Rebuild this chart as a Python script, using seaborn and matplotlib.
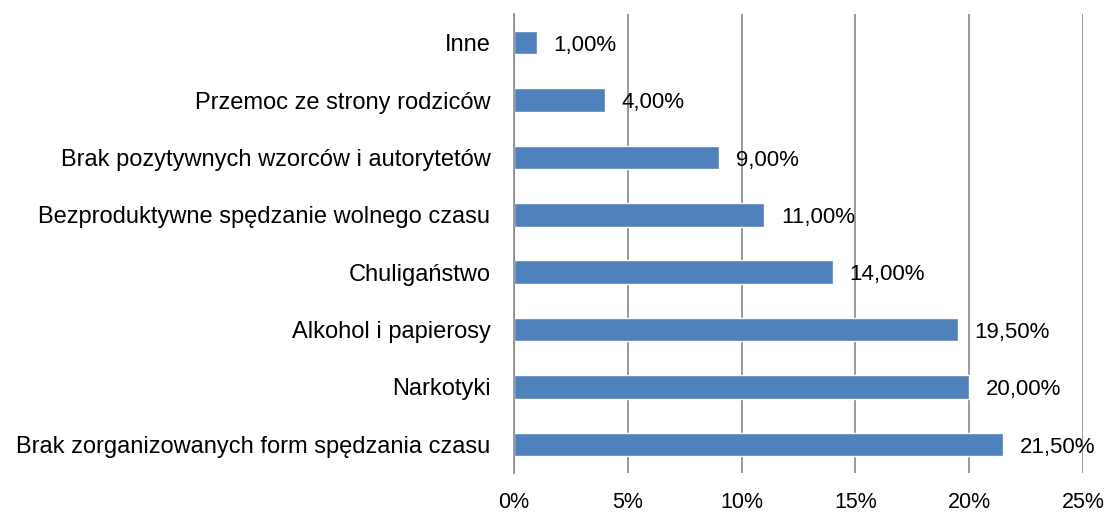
import matplotlib
matplotlib.use("Agg")
import matplotlib.pyplot as plt
import seaborn as sns
import pandas as pd
import numpy as np

# Data (top to bottom as shown)
categories = [
    "Inne",
    "Przemoc ze strony rodziców",
    "Brak pozytywnych wzorców i autorytetów",
    "Bezproduktywne spędzanie wolnego czasu",
    "Chuligaństwo",
    "Alkohol i papierosy",
    "Narkotyki",
    "Brak zorganizowanych form spędzania czasu",
]
values = [1.0, 4.0, 9.0, 11.0, 14.0, 19.5, 20.0, 21.5]
x_ticks = [0, 5, 10, 15, 20, 25]

BAR_COLOR = "#4F81BD"
GRID_COLOR = "#878787"

sns.set_style("white")
plt.rcParams["font.family"] = ["Liberation Sans", "DejaVu Sans"]
plt.rcParams["text.color"] = "black"
plt.rcParams["xtick.color"] = "black"
plt.rcParams["ytick.color"] = "black"

df = pd.DataFrame({"category": categories, "value": values})

fig = plt.figure(figsize=(11.16, 5.17), dpi=100)
ax = fig.add_axes([514 / 1116, 1 - 473 / 517, (1083 - 514) / 1116, (473 - 14) / 517])

sns.barplot(data=df, x="value", y="category", orient="h", color=BAR_COLOR,
            saturation=1, width=0.41, ax=ax)

ax.set_xlim(0, 25)
ax.set_ylim(len(categories) - 0.5, -0.5)
ax.set_xticks(x_ticks)
ax.set_xticklabels([f"{t}%" for t in x_ticks], fontsize=15.5)
ax.tick_params(axis="x", length=0, pad=14, labelcolor="black")
ax.tick_params(axis="y", which="major", length=0, pad=17, labelsize=17, labelcolor="black")
ax.set_yticks(np.arange(-0.5, len(categories) + 0.5, 1), minor=True)
ax.tick_params(axis="y", which="minor", length=6, width=1.2, color=GRID_COLOR, direction="out")
ax.set_xlabel("")
ax.set_ylabel("")

ax.grid(axis="x", color=GRID_COLOR, linewidth=1.2)
ax.set_axisbelow(True)
for side in ["top", "right", "bottom"]:
    ax.spines[side].set_visible(False)
ax.spines["left"].set_color(GRID_COLOR)
ax.spines["left"].set_linewidth(1.2)

for i, v in enumerate(values):
    ax.annotate(f"{v:.2f}%".replace(".", ","), (v, i), xytext=(12, -2),
                textcoords="offset points", va="center", ha="left", fontsize=16,
                color="black")

fig.savefig("out.png", dpi=100)
